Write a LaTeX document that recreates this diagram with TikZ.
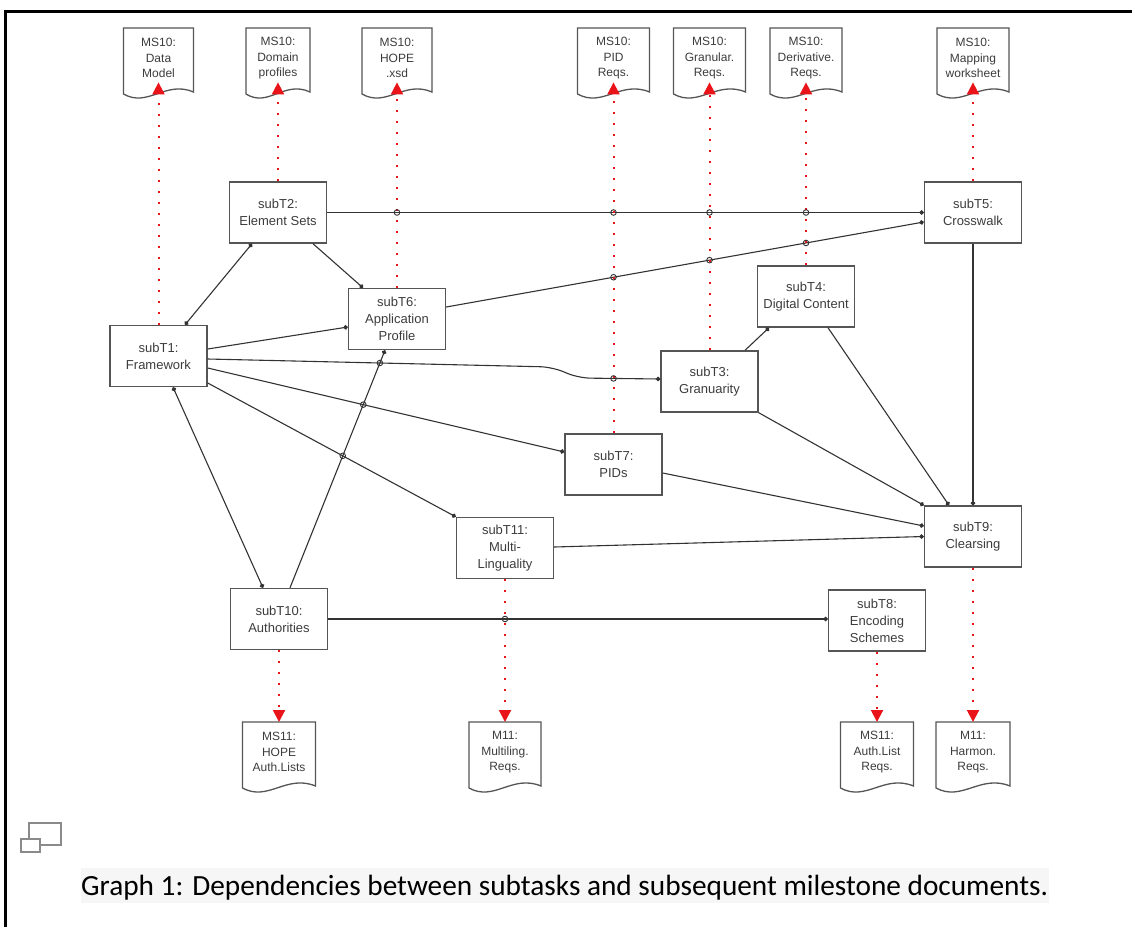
\documentclass[tikz,border=0pt]{standalone}
\usepackage{fontspec}
\setmainfont{Liberation Sans}
\newfontfamily\capfont{Carlito}
\usetikzlibrary{arrows.meta,calc,intersections}

\definecolor{boxline}{HTML}{555555}
\definecolor{wirecol}{HTML}{333333}
\definecolor{inktext}{HTML}{3C3C3C}
\definecolor{msred}{HTML}{E8141A}
\definecolor{capbg}{HTML}{F6F6F6}
\definecolor{icongray}{HTML}{8A8A8A}

% milestone document: #1 name, #2 centre x, #3 top y, #4 width, #5 text
\newcommand{\milestone}[5]{%
  \node[mstext, minimum width=#4pt, anchor=north] (#1) at (#2,#3) {#5};
  \draw[msline] (#2-#4/2,#3) -- (#2+#4/2,#3) -- (#2+#4/2,#3+64)
    .. controls (#2+#4/2-0.4*#4,#3+52) and (#2-#4/2+0.35*#4,#3+80) .. (#2-#4/2,#3+66) -- cycle;
}
% small hop where two named paths cross
\newcommand{\hopat}[2]{%
  \draw[hop, name intersections={of=#1 and #2}] (intersection-1) circle (2.8);
}

\begin{document}
\begin{tikzpicture}[x=1pt,y=-1pt,
  task/.style={draw=boxline, line width=1.4pt, minimum width=97pt, minimum height=61pt,
    inner sep=1pt, align=center, font=\fontsize{13}{17}\selectfont, text=inktext},
  mstext/.style={inner sep=0pt, minimum height=60pt, align=center,
    font=\fontsize{12}{15.5}\selectfont, text=inktext},
  msline/.style={draw=boxline, line width=1.3pt},
  wire/.style={draw=wirecol, line width=1.1pt, -{Circle[length=4.5pt]}},
  wireboth/.style={draw=wirecol, line width=1.1pt, {Circle[length=4.5pt]}-{Circle[length=4.5pt]}},
  output/.style={draw=msred, line width=2pt, dash pattern=on 2pt off 9pt,
    -{Triangle[length=12pt,width=12pt]}},
  hop/.style={draw=wirecol, line width=0.9pt}
]
\useasboundingbox (0,0) rectangle (1132,927);

% page frame
\draw[line width=3.5pt] (5.5,927) -- (5.5,11.5) -- (1132,11.5);

% subtasks
\node[task] (subT1)  at (158.5,356)  {subT1:\\Framework};
\node[task] (subT2)  at (278,212.5)  {subT2:\\Element Sets};
\node[task] (subT6)  at (397,319)    {subT6:\\Application\\Profile};
\node[task] (subT5)  at (973,212.5)  {subT5:\\Crosswalk};
\node[task] (subT4)  at (806,296.5)  {subT4:\\Digital Content};
\node[task] (subT3)  at (709.5,381.5) {subT3:\\Granuarity};
\node[task] (subT7)  at (613.5,464.5) {subT7:\\PIDs};
\node[task] (subT9)  at (973,536.5)  {subT9:\\Clearsing};
\node[task] (subT11) at (505,548)    {subT11:\\Multi-\\Linguality};
\node[task] (subT10) at (279,619)    {subT10:\\Authorities};
\node[task] (subT8)  at (877,620.5)  {subT8:\\Encoding\\Schemes};

% milestone documents
\milestone{d1}{158.5}{28}{70}{MS10:\\Data\\Model}
\milestone{d2}{278}{28}{64}{MS10:\\Domain\\profiles}
\milestone{d3}{397}{28}{70}{MS10:\\HOPE\\.xsd}
\milestone{d4}{613.5}{28}{72}{MS10:\\PID\\Reqs.}
\milestone{d5}{709.5}{28}{72}{MS10:\\Granular.\\Reqs.}
\milestone{d6}{806}{28}{72}{MS10:\\Derivative.\\Reqs.}
\milestone{d7}{973}{28}{72}{MS10:\\Mapping\\worksheet}
\milestone{b1}{279}{722}{73}{MS11:\\HOPE\\Auth.Lists}
\milestone{b2}{505}{722}{72}{M11:\\Multiling.\\Reqs.}
\milestone{b3}{877}{722}{73}{MS11:\\Auth.List\\Reqs.}
\milestone{b4}{973}{722}{74}{M11:\\Harmon.\\Reqs.}

% dependencies between subtasks
\draw[wireboth, name path=e1] ($(subT1.north)+(26.5,0)$) -- ($(subT2.south)+(-26,0)$);
\draw[wire, name path=e2] ($(subT2.south)+(35,0)$) -- ($(subT6.north)+(-34,0)$);
\draw[wire, name path=e3] (subT2.east) -- (subT5.west);
\draw[wire, name path=e4] ($(subT6.east)+(0,-12)$) -- ($(subT5.west)+(0,9.5)$);
\draw[wire, name path=e5] ($(subT1.east)+(0,-7)$) -- ($(subT6.west)+(0,8)$);
\draw[wire, name path=e6, rounded corners=12pt] ($(subT1.east)+(0,3)$)
  -- ($(subT3.west)+(-108,-14.5)$) -- ($(subT3.west)+(-82,-3.5)$) -- ($(subT3.west)+(0,-2.5)$);
\draw[wire, name path=e7] ($(subT1.east)+(0,12)$) -- ($(subT7.west)+(0,-12.5)$);
\draw[wire, name path=e8] ($(subT1.east)+(0,27)$) -- (subT11.north west);
\draw[wireboth, name path=e9] ($(subT1.south)+(14.5,0)$) -- ($(subT10.north)+(-16,0)$);
\draw[wire, name path=e10] ($(subT10.north)+(11,0)$) -- ($(subT6.south)+(-12,0)$);
\draw[wire, name path=e11] (subT10.east) -- (subT10.east -| subT8.west);
\draw[wire] ($(subT3.north)+(35.5,0)$) -- ($(subT4.south)+(-37,0)$);
\draw[wire] ($(subT4.south)+(22,0)$) -- ($(subT9.north)+(-24,0)$);
\draw[wire] (subT3.south east) -- (subT9.north west);
\draw[wire] ($(subT7.east)+(0,8.5)$) -- ($(subT9.west)+(0,-10.5)$);
\draw[wire] ($(subT11.east)+(0,-1)$) -- (subT9.west);
\draw[wire] (subT5.south) -- (subT9.north);

% subtasks feeding milestone documents
\draw[output, shorten >=-6pt, name path=m1] (subT1.north) -- (d1.south);
\draw[output, shorten >=-6pt, name path=m2] (subT2.north) -- (d2.south);
\draw[output, shorten >=-6pt, name path=m3] (subT6.north) -- (d3.south);
\draw[output, shorten >=-6pt, name path=m4] (subT7.north) -- (d4.south);
\draw[output, shorten >=-6pt, name path=m5] (subT3.north) -- (d5.south);
\draw[output, shorten >=-6pt, name path=m6] (subT4.north) -- (d6.south);
\draw[output, shorten >=-6pt, name path=m7] (subT5.north) -- (d7.south);
\draw[output, name path=n1] (subT10.south) -- (b1.north);
\draw[output, name path=n2] (subT11.south) -- (b2.north);
\draw[output, name path=n3] (subT8.south) -- (b3.north);
\draw[output, name path=n4] (subT9.south) -- (b4.north);

% line hops where connectors cross
\hopat{e3}{m3}
\hopat{e3}{m4}
\hopat{e3}{m5}
\hopat{e3}{m6}
\hopat{e4}{m4}
\hopat{e4}{m5}
\hopat{e4}{m6}
\hopat{e6}{m4}
\hopat{e6}{e10}
\hopat{e7}{e10}
\hopat{e8}{e10}
\hopat{e11}{n2}

% caption
\draw[icongray, line width=2pt] (29,823) rectangle (61,845);
\draw[icongray, line width=2pt, fill=white] (21,839) rectangle (40,852);
\node[anchor=base west, fill=capbg, inner xsep=0.5pt, inner ysep=0pt,
  text height=27.5pt, text depth=8pt, font=\capfont\fontsize{29.3}{35}\selectfont] (caption)
  at (80.5,895) {Graph 1: Dependencies between subtasks and subsequent milestone documents.};
\end{tikzpicture}
\end{document}
